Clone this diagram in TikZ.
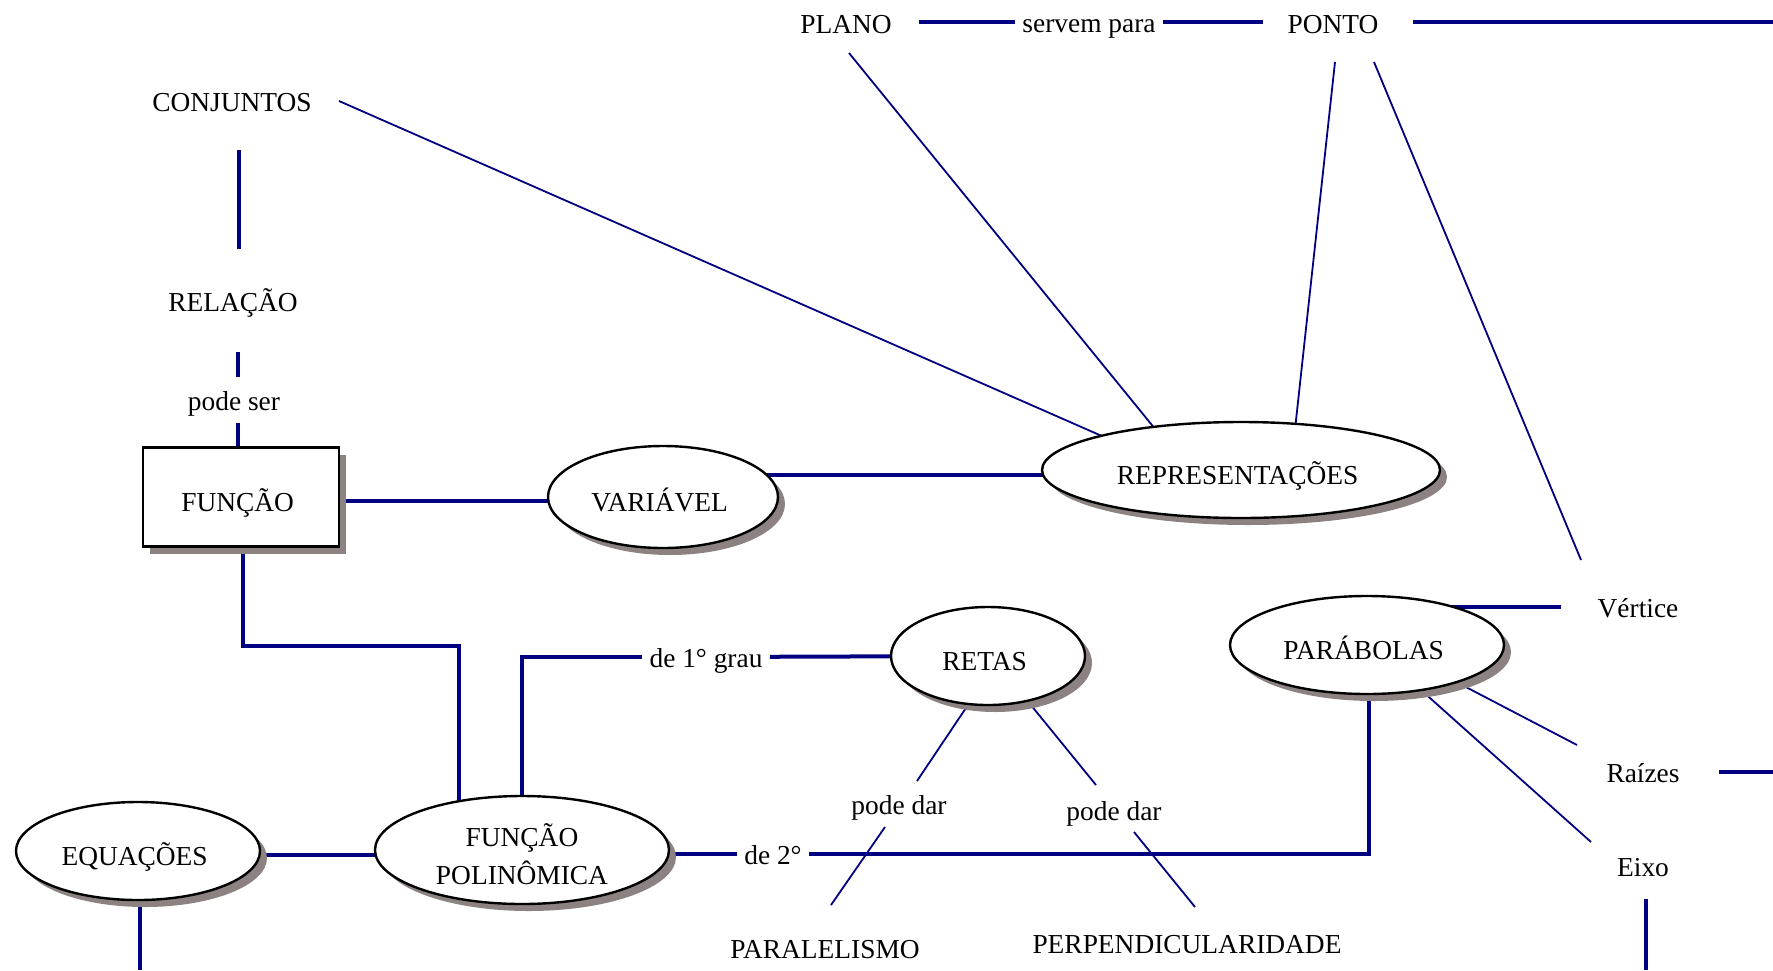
\documentclass[tikz,border=0pt]{standalone}
\usepackage{fontspec}
\setmainfont{Liberation Serif}
\usetikzlibrary{shapes.geometric,shadows,calc,backgrounds}
\definecolor{navy}{RGB}{0,0,128}
\definecolor{shadowc}{RGB}{140,130,130}
\begin{document}
\begin{tikzpicture}[x=0.5pt,y=-0.5pt,
  every node/.style={font=\fontsize{13.7}{18.7}\selectfont},
  tlabel/.style={inner sep=0pt,text height=10.6pt,text depth=0pt},
  glabel/.style={inner sep=3.5pt,text height=10.6pt,text depth=0pt},
  dropsh/.style={drop shadow={shadow xshift=3.5pt,shadow yshift=-3.5pt,fill=shadowc,opacity=1}},
  ovalbase/.style={ellipse,draw=black,line width=1.2pt,fill=white,inner sep=0pt,dropsh},
  oval/.style={ovalbase,text height=14pt,text depth=0pt,execute at begin node={\hspace*{-3.4pt}}},
  conceptbox/.style={rectangle,draw=black,line width=1.2pt,fill=white,inner sep=0pt,text height=14pt,text depth=0pt,execute at begin node={\hspace*{-3.4pt}},dropsh},
  thickedge/.style={draw=navy,line width=2pt},
  thinedge/.style={draw=navy,line width=0.9pt}]

\useasboundingbox (0,0) rectangle (1773,970);

% concepts and labels
\node[tlabel] (plano) at (846,23) {PLANO};
\node[glabel] (servem) at (1089,22) {servem para};
\node[tlabel] (ponto) at (1333,23) {PONTO};
\node[tlabel] (conj) at (232,101) {CONJUNTOS};
\node[tlabel] (relacao) at (233,301) {RELAÇÃO};
\node[tlabel] (podeser) at (234,400) {pode ser};
\node[conceptbox,minimum width=98pt,minimum height=49.5pt] (funcao) at (241,497) {FUNÇÃO};
\node[oval,minimum width=115pt,minimum height=51pt] (variavel) at (663,497) {VARIÁVEL};
\node[oval,minimum width=199pt,minimum height=48pt] (repr) at (1241,470) {REPRESENTAÇÕES};
\node[oval,minimum width=97pt,minimum height=49pt] (retas) at (988,656) {RETAS};
\node[oval,minimum width=137pt,minimum height=49pt] (parab) at (1367,645) {PARÁBOLAS};
\node[oval,minimum width=122pt,minimum height=49pt] (equa) at (138,851) {EQUAÇÕES};
\node[ovalbase,minimum width=147pt,minimum height=54pt,align=center] (funcpol) at (522,850) {\rule{0pt}{15.5pt}FUNÇÃO\\POLINÔMICA};
\node[tlabel] (vert) at (1638,607) {Vértice};
\node[tlabel] (raiz) at (1643,772) {Raízes};
\node[tlabel] (eixo) at (1643,866) {Eixo};
\node[glabel] (grau1) at (706,657) {de 1° grau};
\node[glabel] (grau2) at (773,854) {de 2°};
\node[tlabel] (pd1) at (899,804) {pode dar};
\node[tlabel] (pd2) at (1114,810) {pode dar};
\node[tlabel] (paral) at (825,948) {PARALELISMO};
\node[tlabel] (perp) at (1187,943) {PERPENDICULARIDADE};

% loose ends running off the page
\coordinate (topright) at (1773,22);
\coordinate (raizend) at (1773,772);
\coordinate (eixoend) at (1646,970);
\coordinate (equaend) at (140,970);

\begin{pgfonlayer}{background}
\fill[white] (0,0) rectangle (1773,970);

% heavy links
\draw[thickedge] ($(plano)+(73,-1)$) -- (servem.west);
\draw[thickedge] (servem.east) -- ($(ponto)+(-70,-1)$);
\draw[thickedge] ($(ponto)+(80,-1)$) -- (topright);
\draw[thickedge] ($(conj)+(7,49)$) -- ($(relacao)+(6,-52)$);
\draw[thickedge] ($(relacao)+(5,51)$) -- ($(podeser)+(4,-23)$);
\draw[thickedge] ($(podeser)+(4,23)$) -- ($(funcao)+(-3,0)$);
\draw[thickedge] ($(funcao)+(0,4)$) -- ($(variavel)+(0,4)$);
\draw[thickedge] ($(variavel)+(0,-22)$) -- ($(repr)+(0,5)$);
\draw[thickedge] ($(funcao)+(2,0)$) |- ($(funcpol)+(-63,-204)$) -- ($(funcpol)+(-63,0)$);
\draw[thickedge] (funcpol) |- (grau1);
\draw[thickedge] (grau1) -- (retas);
\draw[thickedge] ($(equa)+(0,4)$) -- ($(funcpol)+(0,5)$);
\draw[thickedge] ($(equa)+(2,0)$) -- (equaend);
\draw[thickedge] ($(funcpol)+(0,4)$) -- (grau2);
\draw[thickedge] (grau2) -| ($(parab)+(2,0)$);
\draw[thickedge] ($(parab)+(0,-38)$) -- ($(vert)+(-77,0)$);
\draw[thickedge] ($(raiz)+(76,0)$) -- (raizend);
\draw[thickedge] ($(eixo)+(3,33)$) -- (eixoend);

% fine links
\draw[thinedge] ($(conj)+(107,0)$) -- ($(repr)+(-105,-19)$);
\draw[thinedge] ($(plano)+(3,30)$) -- ($(repr)+(-59,-8)$);
\draw[thinedge] ($(ponto)+(2,39)$) -- ($(repr)+(51,-13)$);
\draw[thinedge] ($(ponto)+(41,39)$) -- ($(vert)+(-57,-47)$);
\draw[thinedge] ($(parab)+(49,16)$) -- ($(raiz)+(-66,-27)$);
\draw[thinedge] ($(parab)+(16,11)$) -- ($(eixo)+(-52,-24)$);
\draw[thinedge] ($(retas)+(-10,34)$) -- ($(pd1)+(18,-23)$);
\draw[thinedge] ($(pd1)+(-14,23)$) -- ($(paral)+(6,-43)$);
\draw[thinedge] ($(retas)+(29,32)$) -- ($(pd2)+(-18,-25)$);
\draw[thinedge] ($(pd2)+(20,22)$) -- ($(perp)+(8,-36)$);
\end{pgfonlayer}
\end{tikzpicture}
\end{document}
